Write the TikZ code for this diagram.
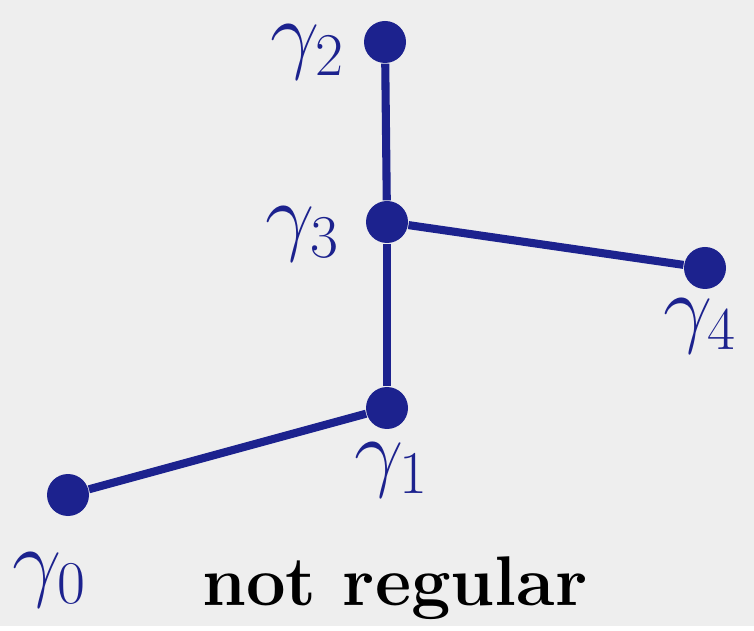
\documentclass[tikz,border=0pt]{standalone}
\usepackage{xcolor}
\usepackage{tikz}
\usetikzlibrary{positioning}

\definecolor{graphblue}{RGB}{28,34,142}
\definecolor{paper}{RGB}{238,238,238}

\begin{document}
\begin{tikzpicture}[dot/.style={circle, fill=graphblue, inner sep=0pt, minimum size=0.42cm},
        lbl/.style={text=graphblue, inner sep=0pt, font=\fontsize{26}{30}\selectfont},
        edge/.style={draw=graphblue, line width=2.3pt}]
        % background
        \fill[paper] (0,0) rectangle (7.54,6.26);

        % vertices
        \node[dot] (g2) at (3.85, 5.84) {};
        \node[dot] (g3) at (3.87, 4.04) {};
        \node[dot] (g4) at (7.05, 3.58) {};
        \node[dot] (g1) at (3.87, 2.18) {};
        \node[dot] (g0) at (0.68, 1.31) {};

        % edges
        \draw[edge] (g0) -- (g1); \draw[edge] (g1) -- (g3); \draw[edge] (g3) -- (g2); \draw[edge] (g3) -- (g4);

        % labels
        \node[lbl] (l2) at (3.08, 5.74) {$\gamma_2$};
        \node[lbl] (l3) at (3.03, 3.92) {$\gamma_3$};
        \node[lbl] (l4) at (7.00, 3.00) {$\gamma_4$};
        \node[lbl] (l1) at (3.92, 1.56) {$\gamma_1$};
        \node[lbl] (l0) at (0.50, 0.46) {$\gamma_0$};
        \node[font=\fontsize{20}{24}\selectfont\bfseries, anchor=base] (cap) at (3.95, 0.21) {not regular};
    \end{tikzpicture}
\end{document}
